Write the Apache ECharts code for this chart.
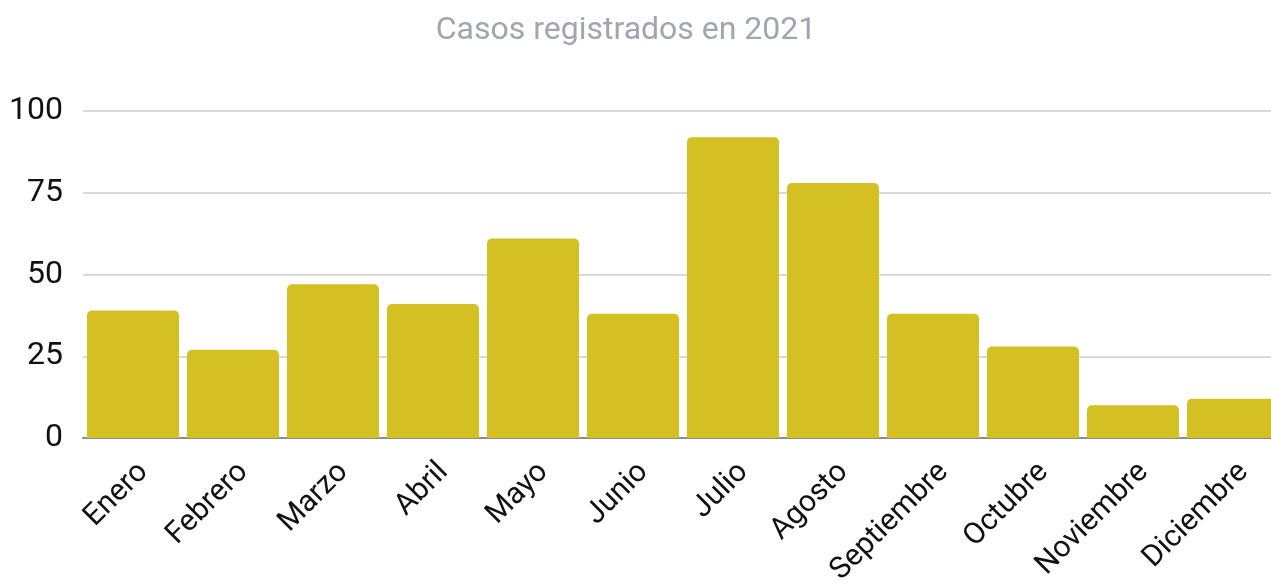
<!DOCTYPE html>
<html>
<head>
<meta charset="utf-8">
<script src="https://cdn.jsdelivr.net/npm/echarts@6/dist/echarts.min.js"></script>
<style>
  html, body { margin: 0; padding: 0; background: #fff; }
  #chart { width: 1271px; height: 584px; }
</style>
</head>
<body>
<div id="chart"></div>
<script>
// months and monthly cases
const months = ["Enero", "Febrero", "Marzo", "Abril", "Mayo", "Junio",
  "Julio", "Agosto", "Septiembre", "Octubre", "Noviembre", "Diciembre"];
const casos = [39, 27, 47, 41, 61, 38, 92, 78, 38, 28, 10, 12];
const yTicks = [0, 25, 50, 75, 100];

const chart = echarts.init(document.getElementById("chart"));
chart.setOption({
  animation: false,
  textStyle: { fontFamily: "Roboto" },
  title: {
    text: "Casos registrados en 2021",
    left: 621,
    top: 10,
    textAlign: "center",
    textStyle: { color: "#9fa6b0", fontSize: 32, fontWeight: "normal", fontFamily: "Roboto" }
  },
  grid: { left: 83, top: 111, width: 1200, bottom: 146, containLabel: false, outerBoundsMode: "none" },
  xAxis: {
    type: "category",
    data: months,
    axisTick: { show: false },
    axisLine: { lineStyle: { color: "#8c8c8c", width: 2 } },
    axisLabel: { rotate: 45, fontSize: 30, color: "#111", margin: 19, interval: 0, verticalAlign: "top" }
  },
  yAxis: {
    type: "value",
    min: yTicks[0],
    max: yTicks[yTicks.length - 1],
    interval: 25,
    axisLine: { show: false },
    axisTick: { show: false },
    axisLabel: { fontSize: 32, color: "#111", margin: 20 },
    splitLine: { lineStyle: { color: "#cccccc", width: 1.5 } }
  },
  series: [{
    type: "bar",
    data: casos,
    barCategoryGap: "8%",
    itemStyle: { color: "#d4c022", borderRadius: [5, 5, 0, 0] }
  }]
});
</script>
</body>
</html>
